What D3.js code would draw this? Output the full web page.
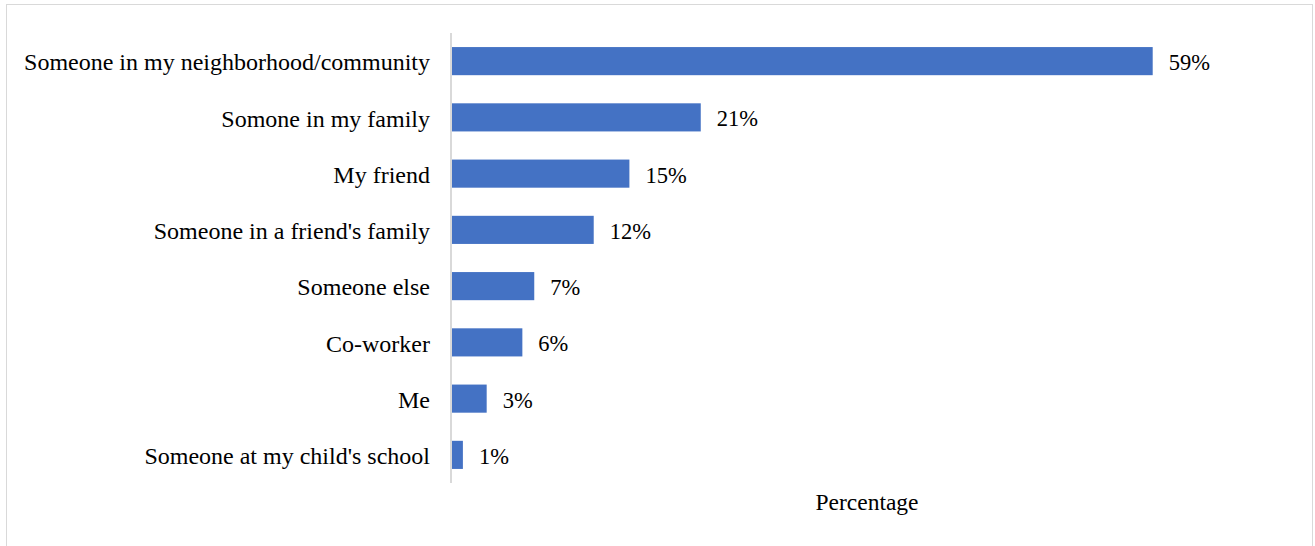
<!DOCTYPE html>
<html>
<head>
<meta charset="utf-8">
<script src="https://cdn.jsdelivr.net/npm/d3@7"></script>
<style>
  html, body { margin: 0; padding: 0; background: #fff; }
  svg { display: block; }
  text { font-family: "Liberation Serif", "Times New Roman", serif; fill: #000; }
</style>
</head>
<body>
<svg id="chart" width="1315" height="546"></svg>
<script>
// Who was affected — share of respondents (%)
const categories = [
  "Someone in my neighborhood/community",
  "Somone in my family",
  "My friend",
  "Someone in a friend's family",
  "Someone else",
  "Co-worker",
  "Me",
  "Someone at my child's school"
];
const values = [59, 21, 15, 12, 7, 6, 3, 1];
const axisTitle = "Percentage";

const svg = d3.select("#chart");

// outer frame
svg.append("rect")
  .attr("x", 6.5).attr("y", 4.5)
  .attr("width", 1306).attr("height", 560)
  .attr("fill", "#fff").attr("stroke", "#d9d9d9").attr("stroke-width", 1);

const plot = { left: 451, top: 33, bottom: 483 };

const x = d3.scaleLinear().domain([0, 59]).range([plot.left, 1152.7]);
const y = d3.scaleBand().domain(categories).range([plot.top, plot.bottom]).paddingInner(0.5).paddingOuter(0.25);

// bars
svg.append("g").selectAll("rect")
  .data(values)
  .join("rect")
  .attr("x", x(0))
  .attr("y", (d, i) => y(categories[i]))
  .attr("width", d => x(d) - x(0))
  .attr("height", y.bandwidth())
  .attr("fill", "#4472c4");

// value labels
svg.append("g").selectAll("text")
  .data(values)
  .join("text")
  .attr("x", d => x(d) + 16)
  .attr("y", (d, i) => y(categories[i]) + y.bandwidth() / 2 + 1)
  .attr("dy", "0.35em")
  .style("font-size", "22.5px")
  .text(d => d + "%");

// category axis
const yAxis = svg.append("g")
  .attr("transform", `translate(${plot.left},0)`)
  .call(d3.axisLeft(y).tickSize(0).tickPadding(21));
yAxis.select(".domain").attr("stroke", "#d9d9d9").attr("stroke-width", 2)
  .attr("d", `M0,${plot.top}V${plot.bottom}`);
yAxis.selectAll("text")
  .attr("dy", "0.38em")
  .style("font-size", "24px")
  .attr("fill", "#000");

// value axis title
svg.append("text")
  .attr("x", 867).attr("y", 510)
  .attr("text-anchor", "middle")
  .style("font-size", "23.5px")
  .text(axisTitle);
</script>
</body>
</html>
